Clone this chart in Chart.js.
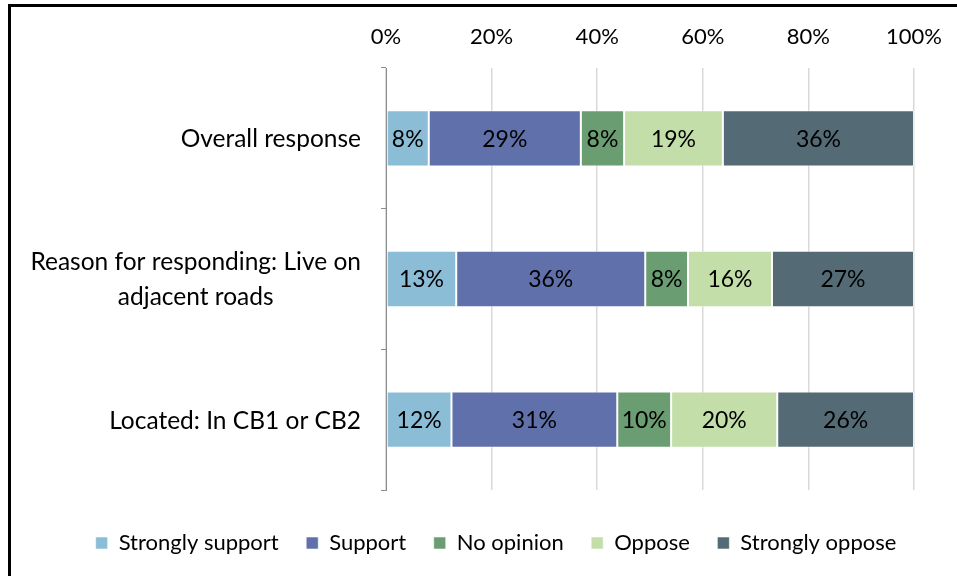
<!DOCTYPE html>
<html>
<head>
<meta charset="utf-8">
<script src="https://cdn.jsdelivr.net/npm/chart.js@4.4.1/dist/chart.umd.min.js"></script>
<style>
html, body { margin: 0; padding: 0; background: #fff; overflow: hidden; }
#wrap { position: relative; width: 957px; height: 576px; overflow: hidden; }
#frame { position: absolute; left: 8px; top: 4px; width: 960px; height: 600px;
  border-left: 3px solid #000; border-top: 3px solid #000; pointer-events: none; }
canvas { position: absolute; left: 0; top: 0; }
</style>
</head>
<body>
<div id="wrap">
  <canvas id="chart" width="957" height="576"></canvas>
  <div id="frame"></div>
</div>
<script>
// categories (multi-line labels as arrays)
const categories = [
  ['Overall response'],
  ['Reason for responding: Live on', 'adjacent roads'],
  ['Located: In CB1 or CB2']
];

const seriesNames = ['Strongly support', 'Support', 'No opinion', 'Oppose', 'Strongly oppose'];
const seriesColors = ['#8cbdd6', '#6070aa', '#6a9d72', '#c3dea9', '#546b75'];

// percentages
const stronglySupport = [8.1, 13.3, 12.4];
const support = [28.8, 35.8, 31.4];
const noOpinion = [8.2, 8.1, 10.2];
const oppose = [18.7, 15.9, 20.1];
const stronglyOppose = [36.2, 26.9, 25.9];

const xTicks = [0, 20, 40, 60, 80, 100];

const FONT = 'Lato';

// values inside the bars
const barLabels = {
  id: 'barLabels',
  afterDatasetsDraw(chart) {
    const ctx = chart.ctx;
    ctx.save();
    ctx.font = '23px ' + FONT;
    ctx.fillStyle = '#000';
    ctx.textAlign = 'center';
    ctx.textBaseline = 'middle';
    chart.data.datasets.forEach((ds, i) => {
      chart.getDatasetMeta(i).data.forEach((bar, j) => {
        const p = bar.getCenterPoint();
        ctx.fillText(Math.round(ds.data[j]) + '%', p.x, p.y + 1);
      });
    });
    ctx.restore();
  }
};

// category labels: block right aligned, lines centered inside the block
const catLabels = {
  id: 'catLabels',
  afterDraw(chart) {
    const ctx = chart.ctx;
    const y = chart.scales.y;
    const right = chart.chartArea.left - 25;
    const lineH = 35;
    ctx.save();
    ctx.font = '24.5px ' + FONT;
    ctx.fillStyle = '#000';
    ctx.textAlign = 'center';
    ctx.textBaseline = 'middle';
    categories.forEach((lines, i) => {
      const w = Math.max(...lines.map(l => ctx.measureText(l).width));
      const cx = right - w / 2;
      const cy = y.getPixelForValue(i);
      lines.forEach((l, k) => {
        ctx.fillText(l, cx, cy + (k - (lines.length - 1) / 2) * lineH + 1);
      });
    });
    ctx.restore();
  }
};

const datasets = [stronglySupport, support, noOpinion, oppose, stronglyOppose].map((vals, i) => ({
  label: seriesNames[i],
  data: vals,
  backgroundColor: seriesColors[i],
  borderColor: 'rgba(255,255,255,0.55)',
  borderWidth: 1,
  borderSkipped: false,
  categoryPercentage: 1,
  barPercentage: 0.4
}));

const LEFT_PAD = 35;

new Chart(document.getElementById('chart'), {
  type: 'bar',
  data: { labels: categories, datasets: datasets },
  options: {
    indexAxis: 'y',
    responsive: false,
    animation: false,
    layout: { padding: { left: LEFT_PAD, right: 0, top: 0, bottom: 12 } },
    scales: {
      x: {
        position: 'top',
        stacked: true,
        min: 0,
        max: 100,
        afterBuildTicks(scale) { scale.ticks = xTicks.map(v => ({ value: v })); },
        afterFit(scale) {
          scale.height = 68;
          scale.paddingLeft = 0;
          scale.paddingRight = 0;
        },
        border: { display: false },
        grid: { color: '#d9d9d9', lineWidth: 1.5, drawTicks: false },
        ticks: {
          padding: 18,
          color: '#000',
          font: { family: FONT, size: 22 },
          callback: v => v + '%'
        }
      },
      y: {
        stacked: true,
        afterFit(scale) { scale.width = 386 - LEFT_PAD; },
        border: { display: true, color: '#8c8c8c', width: 1 },
        grid: { drawOnChartArea: false, drawTicks: true, tickLength: 5, color: '#8c8c8c', offset: true },
        ticks: { display: false }
      },
      // empty spacer on the right so the plot ends where the reference does
      spacer: {
        axis: 'y',
        type: 'linear',
        position: 'right',
        afterFit(scale) { scale.width = 43; },
        border: { display: false },
        grid: { display: false },
        ticks: { display: false }
      }
    },
    plugins: {
      tooltip: { enabled: false },
      legend: {
        position: 'bottom',
        title: { display: true, text: ' ', font: { size: 1 }, padding: { top: 13.3, bottom: 0 } },
        labels: {
          boxWidth: 12,
          boxHeight: 12,
          padding: 27.5,
          color: '#000',
          font: { family: FONT, size: 22 }
        }
      }
    }
  },
  plugins: [barLabels, catLabels]
});
</script>
</body>
</html>
